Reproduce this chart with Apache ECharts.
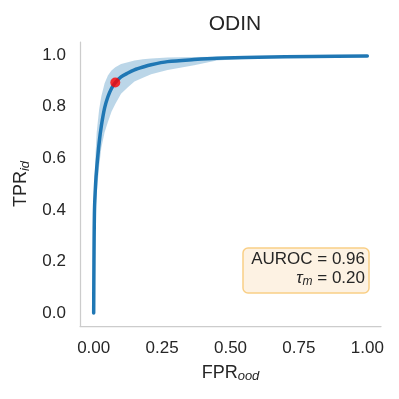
<!DOCTYPE html>
<html>
<head>
<meta charset="utf-8">
<script src="https://cdn.jsdelivr.net/npm/echarts@6/dist/echarts.min.js"></script>
<style>
  html, body { margin: 0; padding: 0; background: #fff; }
  #chart { width: 399px; height: 399px; }
</style>
</head>
<body>
<div id="chart"></div>
<script>
// ROC curve, ODIN
const fpr   = [0, 0.001, 0.003, 0.007, 0.011, 0.02, 0.028, 0.04, 0.052, 0.065, 0.079, 0.1, 0.125, 0.149, 0.18, 0.21, 0.27, 0.367, 0.45, 0.6, 0.8, 1.0];
const tpr   = [0, 0.2, 0.4, 0.5, 0.56, 0.66, 0.725, 0.795, 0.838, 0.87, 0.893, 0.915, 0.93, 0.942, 0.953, 0.962, 0.974, 0.982, 0.987, 0.991, 0.994, 0.996];
const tprLo = [0, 0.15, 0.3, 0.4, 0.46, 0.57, 0.64, 0.7, 0.74, 0.78, 0.81, 0.85, 0.875, 0.897, 0.912, 0.925, 0.942, 0.96, 0.978, 0.988, 0.992, 0.995];
const tprHi = [0, 0.25, 0.5, 0.62, 0.7, 0.79, 0.84, 0.89, 0.92, 0.94, 0.952, 0.965, 0.972, 0.978, 0.983, 0.986, 0.99, 0.992, 0.993, 0.994, 0.996, 0.997];
const opPoint = [0.079, 0.893];
const auroc = '0.96';
const tauM = '0.20';

const xTicks = [0, 0.25, 0.5, 0.75, 1.0];
const yTicks = [0, 0.2, 0.4, 0.6, 0.8, 1.0];

const blue = '#1f77b4';
const txt = '#262626';
const font = '"Liberation Sans", Arial, sans-serif';

const chart = echarts.init(document.getElementById('chart'));

const bandData = fpr.map((x, i) => [x, tprLo[i], tprHi[i]]);
const meanData = fpr.map((x, i) => [x, tpr[i]]);

// std band drawn as one polygon: upper edge forward, lower edge back
function renderBand(params, api) {
  if (params.dataIndex !== 0) return;
  const pts = [];
  for (let i = 0; i < fpr.length; i++) pts.push(api.coord([fpr[i], tprHi[i]]));
  for (let i = fpr.length - 1; i >= 0; i--) pts.push(api.coord([fpr[i], tprLo[i]]));
  return {
    type: 'polygon',
    shape: { points: pts },
    style: { fill: blue, opacity: 0.3 }
  };
}

const subStyle = { fontSize: 13, fontStyle: 'italic', color: txt, fontFamily: font, verticalAlign: 'bottom', padding: [7, 0, 0, 0] };

const option = {
  animation: false,
  backgroundColor: '#fff',
  textStyle: { fontFamily: font },
  title: {
    text: 'ODIN',
    left: 230, top: 9, textAlign: 'center',
    textStyle: { fontSize: 21, fontWeight: 'normal', color: txt, fontFamily: font }
  },
  grid: { left: 80, right: 18, top: 42, bottom: 73 },
  xAxis: {
    type: 'value', min: -0.05, max: 1.05,
    name: 'FPR{sub|ood}',
    nameLocation: 'middle', nameGap: 37,
    nameTextStyle: { fontSize: 18, color: txt, fontFamily: font, rich: { sub: subStyle } },
    axisLine: { show: true, onZero: false, lineStyle: { color: '#cccccc', width: 1.25 } },
    axisTick: { show: false },
    splitLine: { show: false },
    axisLabel: {
      fontSize: 17, color: txt, margin: 14, fontFamily: font,
      customValues: xTicks,
      formatter: v => v.toFixed(2)
    }
  },
  yAxis: {
    type: 'value', min: -0.05, max: 1.05,
    name: 'TPR{sub|id}',
    nameLocation: 'middle', nameGap: 47, nameRotate: 90,
    nameTextStyle: { fontSize: 18, color: txt, fontFamily: font, rich: { sub: subStyle } },
    axisLine: { show: true, onZero: false, lineStyle: { color: '#cccccc', width: 1.25 } },
    axisTick: { show: false },
    splitLine: { show: false },
    axisLabel: {
      fontSize: 17, color: txt, margin: 14, fontFamily: font,
      customValues: yTicks,
      formatter: v => v.toFixed(1)
    }
  },
  series: [
    {
      type: 'custom', data: bandData, renderItem: renderBand,
      encode: { x: 0, y: [1, 2] }, silent: true, clip: true, z: 1
    },
    {
      type: 'line', data: meanData, symbol: 'none', smooth: 0.3, z: 3,
      lineStyle: { color: blue, width: 3.5, cap: 'round' }
    },
    {
      type: 'scatter', data: [opPoint], symbolSize: 10,
      itemStyle: { color: '#ff0000' }, z: 5
    }
  ],
  graphic: [
    {
      type: 'rect',
      shape: { x: 243, y: 248, width: 126, height: 45, r: 5 },
      style: { fill: '#fdf2e3', stroke: '#f9cf86', lineWidth: 1.5 }
    },
    {
      type: 'text', x: 365, y: 250,
      style: {
        text: 'AUROC = ' + auroc + '\n{i|τ}{sub|m} = ' + tauM,
        align: 'right',
        fill: txt, fontSize: 17, fontFamily: font, lineHeight: 19,
        rich: {
          i: { fontStyle: 'italic', fontSize: 17, fill: txt, fontFamily: font },
          sub: { fontStyle: 'italic', fontSize: 12, fill: txt, fontFamily: font, verticalAlign: 'bottom', padding: [6, 0, 0, 0] }
        }
      }
    }
  ]
};

chart.setOption(option);
</script>
</body>
</html>
